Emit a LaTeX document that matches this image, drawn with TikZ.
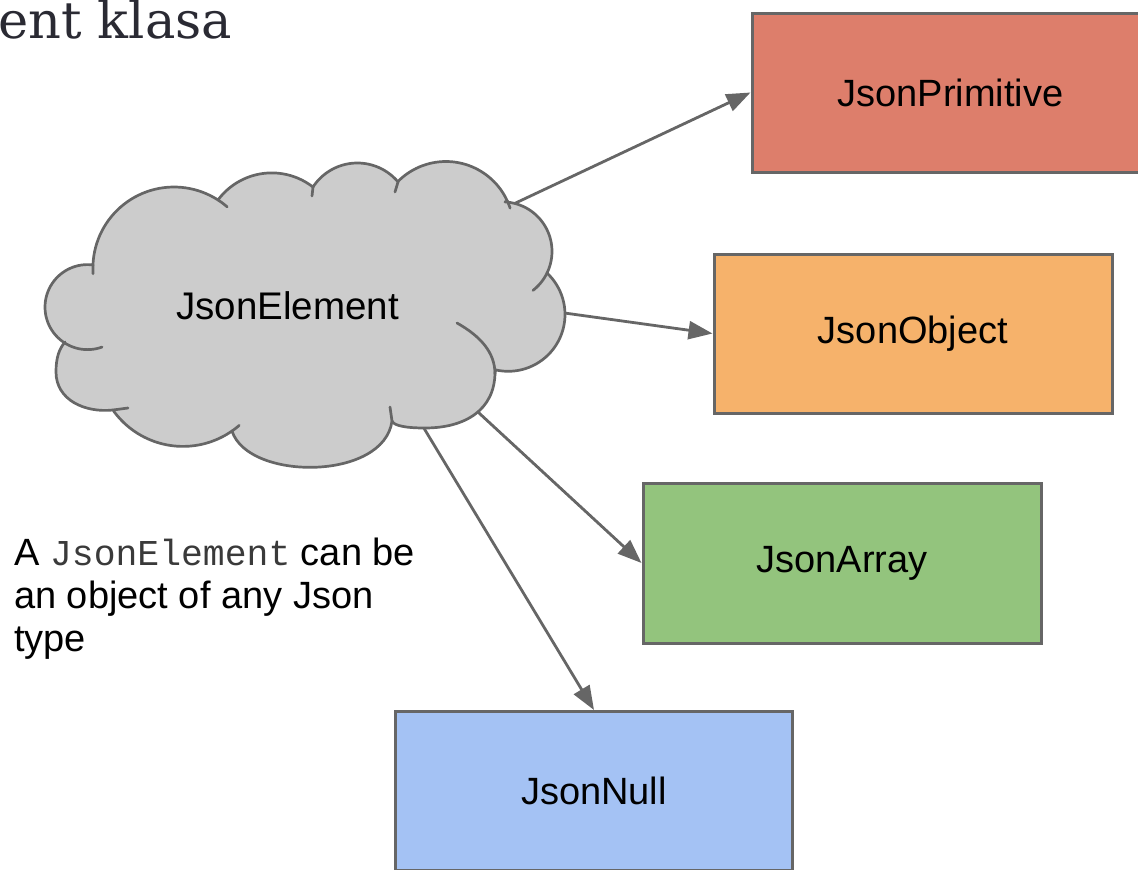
\documentclass[tikz,border=0pt]{standalone}
\usepackage{fontspec}
\setmainfont{Liberation Sans}
\setmonofont{Liberation Mono}
\newfontfamily\headserif{DejaVu Serif}
\usetikzlibrary{arrows.meta}
\definecolor{linegray}{HTML}{666666}
\definecolor{cloudfill}{HTML}{CCCCCC}
\definecolor{primfill}{HTML}{DD7E6B}
\definecolor{objfill}{HTML}{F6B26B}
\definecolor{arrfill}{HTML}{93C47D}
\definecolor{nullfill}{HTML}{A4C2F4}
\definecolor{headcol}{HTML}{2A2A33}
\definecolor{monocol}{HTML}{3A3A3A}
\tikzset{
  typebox/.style={draw=linegray, line width=3pt, rectangle, inner sep=0pt,
    minimum width=397pt, minimum height=159pt, text=black,
    font=\fontsize{38}{44}\selectfont},
  conn/.style={draw=linegray, line width=2.8pt,
    -{Triangle[length=24pt,width=18pt]}},
  cloudline/.style={draw=linegray, line width=2.7pt, line cap=round, line join=round},
  arcpts/.style={samples=40, variable=\t},
}
\begin{document}
\begin{tikzpicture}[x=1pt,y=-1pt]
\useasboundingbox (0,0) rectangle (1138,870);
\clip (0,0) rectangle (1138,870);

% heading fragment
\node[anchor=base west, inner sep=0pt, text=headcol,
      font=\headserif\fontsize{51}{56}\selectfont] (head) at (-2,38) {ent klasa};

% type boxes
\node[typebox, fill=primfill] (prim) at (950.5,92.5) {JsonPrimitive};
\node[typebox, fill=objfill, minimum width=398pt] (obj) at (913,333.5) {JsonObject};
\node[typebox, fill=arrfill, minimum width=398pt, minimum height=160pt] (arr) at (842,563) {JsonArray};
\node[typebox, fill=nullfill] (null) at (594,791) {JsonNull};

% connector start points inside the cloud
\coordinate (s1) at (505,208);
\coordinate (s2) at (550,311);
\coordinate (s3) at (466,401);
\coordinate (s4) at (419,420);

\draw[conn] (s1) -- (prim.west);
\draw[conn] (s2) -- (obj.west);
\draw[conn] (s3) -- (arr.west);
\draw[conn] (s4) -- (null.north);

% cloud
\filldraw[cloudline, fill=cloudfill]
  plot[arcpts, domain=182.2:302.9] ({174+81.1*cos(\t)},{268.1+81.1*sin(\t)})
  -- plot[arcpts, domain=216.6:307.9] ({271.8+67*cos(\t)},{239.9+67*sin(\t)})
  -- plot[arcpts, domain=213.2:320] ({357.4+53.1*cos(\t)},{216.1+53.1*sin(\t)})
  -- plot[arcpts, domain=224.5:335.4] ({445.9+67.5*cos(\t)},{229+67.5*sin(\t)})
  -- plot[arcpts, domain=272.9:385.9] ({502.5+49.5*cos(\t)},{251.4+49.5*sin(\t)})
  -- plot[arcpts, domain=-46.9:102.7] ({508.2+56.8*cos(\t)},{314.5+56.8*sin(\t)})
  -- (495,372) .. controls (495,410) and (465,428) .. (425,428)
  .. controls (407,428) and (394,426) .. (392,421)
  .. controls (384,481) and (248,481) .. (232,431)
  -- plot[arcpts, domain=55.1:144.8] ({183+85.7*cos(\t)},{360.7+85.7*sin(\t)})
  -- (113,410) .. controls (85,413) and (56,400) .. (56,372)
  .. controls (56,358) and (59,349) .. (65,342)
  -- plot[arcpts, domain=122.8:277.4] ({87.5+42.5*cos(\t)},{307.1+42.5*sin(\t)})
  -- cycle;
% inner arcs of the cloud
\draw[cloudline] plot[arcpts, domain=176:182.2] ({174+81.1*cos(\t)},{268.1+81.1*sin(\t)});
\draw[cloudline] plot[arcpts, domain=302.9:311] ({174+81.1*cos(\t)},{268.1+81.1*sin(\t)});
\draw[cloudline] (313,187) -- (312,196);
\draw[cloudline] (398,182) -- (395,192);
\draw[cloudline] plot[arcpts, domain=335.4:342] ({445.9+67.5*cos(\t)},{229+67.5*sin(\t)});
\draw[cloudline] plot[arcpts, domain=25.9:52] ({502.5+49.5*cos(\t)},{251.4+49.5*sin(\t)});
\draw[cloudline] (457,323) .. controls (480,336) and (495,352) .. (495,374);
\draw[cloudline] (392,421) -- (390,407);
\draw[cloudline] plot[arcpts, domain=49:55.1] ({183+85.7*cos(\t)},{360.7+85.7*sin(\t)});
\draw[cloudline] (113,410) -- (128,408);
\draw[cloudline] plot[arcpts, domain=70:122.8] ({87.5+42.5*cos(\t)},{307.1+42.5*sin(\t)});

\node[inner sep=0pt, text=black, font=\fontsize{38.5}{44}\selectfont] (elem) at (287.5,306) {JsonElement};

% note
\node[anchor=north west, align=left, inner sep=0pt, text=black,
      font=\fontsize{38}{43}\selectfont] (note) at (14,538)
  {A {\fontsize{36.4}{43}\ttfamily\color{monocol}JsonElement} can be\\ an object of any Json\\ type};
\end{tikzpicture}
\end{document}
